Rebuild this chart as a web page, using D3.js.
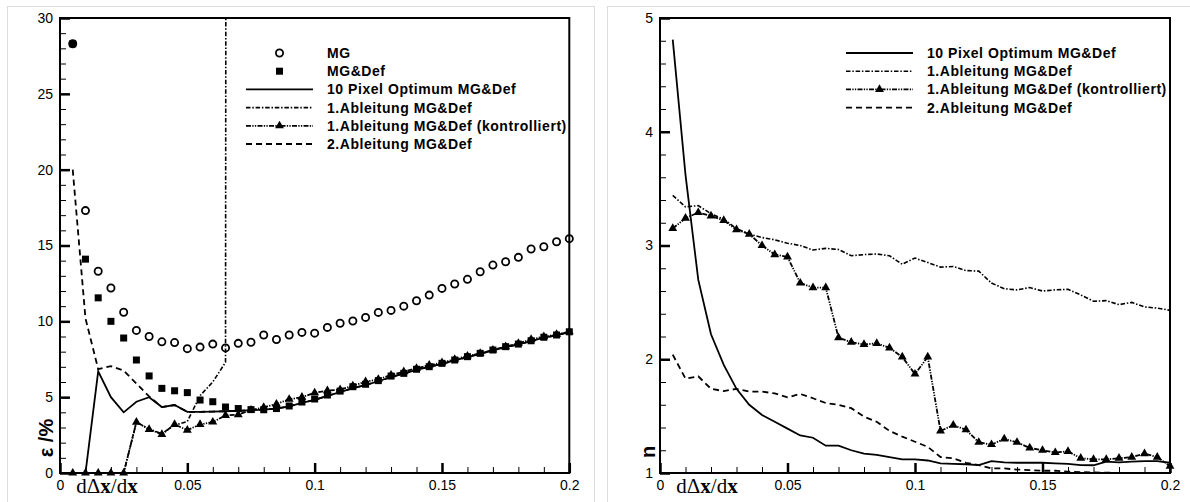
<!DOCTYPE html>
<html>
  <head>
    <meta charset="utf-8">
    <style>
body {
  margin: 0;
  background: #fff;
}
text {
  font-family: 'Liberation Sans', Arial, sans-serif;
  fill: #000;
}
.axis .domain {
  display: none;
}
.axis text {
  font-size: 14px;
}
.legend text {
  font-size: 14px;
  font-weight: bold;
  letter-spacing: 0.55px;
}
</style>
    <title></title>
  </head>
  <body>
    <svg width="1190" height="502"></svg>
    <script src="https://d3js.org/d3.v7.min.js"></script>
    <script>
// x positions of the samples (d delta x / dx)
var xGrid = [0.005, 0.01, 0.015, 0.02, 0.025, 0.03, 0.035, 0.04, 0.045, 0.05,
             0.055, 0.06, 0.065, 0.07, 0.075, 0.08, 0.085, 0.09, 0.095, 0.1,
             0.105, 0.11, 0.115, 0.12, 0.125, 0.13, 0.135, 0.14, 0.145, 0.15,
             0.155, 0.16, 0.165, 0.17, 0.175, 0.18, 0.185, 0.19, 0.195, 0.2];

var xMajor = [0, 0.05, 0.1, 0.15, 0.2];
var xMinor = [0.01, 0.02, 0.03, 0.04, 0.06, 0.07, 0.08, 0.09, 0.11, 0.12, 0.13, 0.14, 0.16, 0.17, 0.18, 0.19];
var xLabels = ["0", "0.05", "0.1", "0.15", "0.2"];

// left panel: epsilon in %
var epsMajor = [0, 5, 10, 15, 20, 25, 30];
var epsMinor = [1, 2, 3, 4, 6, 7, 8, 9, 11, 12, 13, 14, 16, 17, 18, 19, 21, 22, 23, 24, 26, 27, 28, 29];

var epsMG = [28.3, 17.3, 13.3, 12.2, 10.6, 9.4, 9.0, 8.65, 8.6, 8.2,
             8.3, 8.5, 8.25, 8.55, 8.62, 9.1, 8.8, 9.1, 9.27, 9.22,
             9.6, 9.87, 10.02, 10.26, 10.59, 10.72, 11.0, 11.36, 11.73, 12.17,
             12.46, 12.77, 13.27, 13.71, 13.93, 14.22, 14.77, 14.92, 15.25, 15.45];
var epsMGDef = [28.3, 14.1, 11.55, 10.0, 8.9, 7.45, 6.4, 5.58, 5.42, 5.3,
                4.81, 4.7, 4.35, 4.25, 4.18, 4.17, 4.25, 4.42, 4.68, 4.88,
                5.14, 5.4, 5.69, 5.85, 6.09, 6.39, 6.57, 6.84, 7.01, 7.23,
                7.45, 7.67, 7.89, 8.11, 8.33, 8.5, 8.72, 8.95, 9.1, 9.31];
var epsPixel = [0, 0, 6.7, 5.0, 4.0, 4.7, 5.0, 4.35, 4.48, 4.03,
                4.03, 4.05, 4.07, 4.1, 4.14, 4.18, 4.25, 4.4, 4.62, 4.82,
                5.08, 5.33, 5.6, 5.8, 6.05, 6.33, 6.55, 6.8, 7.0, 7.2,
                7.42, 7.64, 7.86, 8.08, 8.3, 8.48, 8.7, 8.92, 9.08, 9.3];
// diverges after 0.065
var epsAbl1 = [0, 0, 0, 0, 0, 3.35, 2.9, 2.6, 3.15, 3.4,
               5.1, 6.0, 7.3, 1000];
var epsAbl1Ctrl = [0, 0, 0, 0, 0, 3.35, 2.88, 2.55, 3.2, 2.83,
                   3.2, 3.36, 3.8, 3.85, 4.15, 4.33, 4.55, 4.86, 5.0, 5.29,
                   5.43, 5.5, 5.75, 6.02, 6.18, 6.46, 6.68, 6.9, 7.12, 7.27,
                   7.5, 7.71, 7.89, 8.11, 8.33, 8.55, 8.81, 8.99, 9.14, 9.31];
var epsAbl2 = [20, 10.2, 6.85, 7.05, 6.75, 5.9, 5.05, 4.35, 4.48, 4.03,
               4.03, 4.05, 4.07, 4.1, 4.14, 4.18, 4.25, 4.4, 4.62, 4.82,
               5.08, 5.33, 5.6, 5.8, 6.05, 6.33, 6.55, 6.8, 7.0, 7.2,
               7.42, 7.64, 7.86, 8.08, 8.3, 8.48, 8.7, 8.92, 9.08, 9.3];

// right panel: n
var nMajor = [1, 2, 3, 4, 5];
var nMinor = [1.2, 1.4, 1.6, 1.8, 2.2, 2.4, 2.6, 2.8, 3.2, 3.4, 3.6, 3.8, 4.2, 4.4, 4.6, 4.8];

var nPixel = [4.81, 3.62, 2.7, 2.22, 1.95, 1.74, 1.6, 1.51, 1.45, 1.39,
              1.33, 1.31, 1.24, 1.24, 1.2, 1.17, 1.16, 1.14, 1.12, 1.12,
              1.11, 1.085, 1.08, 1.077, 1.07, 1.105, 1.094, 1.09, 1.09, 1.09,
              1.085, 1.08, 1.07, 1.068, 1.1, 1.094, 1.1, 1.105, 1.105, 1.09];
var nAbl1 = [3.44, 3.34, 3.35, 3.28, 3.23, 3.15, 3.1, 3.07, 3.05, 3.02,
             3.0, 2.96, 2.975, 2.965, 2.91, 2.92, 2.925, 2.91, 2.835, 2.89,
             2.85, 2.81, 2.815, 2.78, 2.775, 2.67, 2.62, 2.61, 2.63, 2.6,
             2.61, 2.615, 2.565, 2.51, 2.515, 2.48, 2.5, 2.46, 2.45, 2.43];
var nAbl1Ctrl = [3.15, 3.24, 3.29, 3.26, 3.22, 3.14, 3.1, 3.0, 2.92, 2.9,
                 2.67, 2.63, 2.63, 2.19, 2.15, 2.13, 2.14, 2.1, 2.02, 1.87,
                 2.02, 1.37, 1.42, 1.38, 1.27, 1.25, 1.3, 1.27, 1.22, 1.2,
                 1.18, 1.19, 1.13, 1.12, 1.12, 1.13, 1.14, 1.17, 1.14, 1.06];
var nAbl2 = [2.04, 1.83, 1.85, 1.74, 1.72, 1.74, 1.715, 1.715, 1.7, 1.665,
             1.695, 1.657, 1.615, 1.6, 1.57, 1.495, 1.45, 1.37, 1.32, 1.275,
             1.23, 1.14, 1.13, 1.09, 1.07, 1.04, 1.04, 1.03, 1.026, 1.02,
             1.02, 1.012, 1.008, 1.005, 1.003, 1.0, 1.0, 1.0, 1.0, 1.0];

// line styles
var styles = {
  pixel: {dash: null, width: 1.8},
  abl1:  {dash: "4.5,1.8,1.5,1.8", width: 1.6},
  ctrl:  {dash: "5,1.3,1.3,1.3,1.3,1.3", width: 1.8},
  abl2:  {dash: "6,4", width: 1.8}
};

var svg = d3.select("svg");

function pts(vals) {
  return vals.map(function(v, i) { return [xGrid[i], v]; });
}

function drawPanel(p) {
  // light frame round the panel
  svg.append("rect")
      .attr("x", p.boxX + 0.5).attr("y", 6.5)
      .attr("width", p.boxW).attr("height", 500)
      .attr("fill", "none").attr("stroke", "#dcdcdc");

  var x = d3.scaleLinear().domain([0, 0.2]).range([p.left, p.right]);
  var y = d3.scaleLinear().domain(p.yDomain).range([p.bottom, p.top]);

  var clipId = "clip" + p.id;
  svg.append("clipPath").attr("id", clipId)
    .append("rect")
      .attr("x", p.left).attr("y", p.top)
      .attr("width", p.right - p.left).attr("height", p.bottom - p.top);

  // minor ticks
  svg.append("g").attr("class", "axis")
      .attr("transform", "translate(0," + p.bottom + ")")
      .call(d3.axisBottom(x).tickValues(xMinor).tickSize(-6).tickSizeOuter(0).tickFormat(""))
      .selectAll("line").attr("stroke-width", 1);
  svg.append("g").attr("class", "axis")
      .attr("transform", "translate(" + p.left + ",0)")
      .call(d3.axisLeft(y).tickValues(p.yMinor).tickSize(-6).tickSizeOuter(0).tickFormat(""))
      .selectAll("line").attr("stroke-width", 1);

  // major ticks with labels
  var xa = svg.append("g").attr("class", "axis")
      .attr("transform", "translate(0," + p.bottom + ")")
      .call(d3.axisBottom(x).tickValues(xMajor).tickSize(-10).tickSizeOuter(0).tickPadding(7)
        .tickFormat(function(d, i) { return xLabels[i]; }));
  xa.selectAll("line").attr("stroke-width", 2.5);

  var ya = svg.append("g").attr("class", "axis")
      .attr("transform", "translate(" + p.left + ",0)")
      .call(d3.axisLeft(y).tickValues(p.yMajor).tickSize(-10).tickSizeOuter(0).tickPadding(7)
        .tickFormat(d3.format("d")));
  ya.selectAll("line").attr("stroke-width", 2.5);

  // plot frame
  svg.append("rect")
      .attr("x", p.left).attr("y", p.top)
      .attr("width", p.right - p.left).attr("height", p.bottom - p.top)
      .attr("fill", "none").attr("stroke", "#000").attr("stroke-width", 2);

  var line = d3.line()
      .x(function(d) { return x(d[0]); })
      .y(function(d) { return y(d[1]); });

  var lines = svg.append("g").attr("clip-path", "url(#" + clipId + ")");
  p.lines.forEach(function(s) {
    lines.append("path")
        .attr("d", line(pts(s.values)))
        .attr("fill", "none")
        .attr("stroke", "#000")
        .attr("stroke-width", s.style.width)
        .attr("stroke-dasharray", s.style.dash);
  });

  // markers
  var marks = svg.append("g");
  if (p.squares) {
    marks.selectAll(".sq").data(pts(p.squares)).enter().append("rect")
        .attr("x", function(d) { return x(d[0]) - 3.5; })
        .attr("y", function(d) { return y(d[1]) - 3.5; })
        .attr("width", 7).attr("height", 7)
        .attr("fill", "#000");
  }
  if (p.circles) {
    marks.selectAll(".ci").data(pts(p.circles)).enter().append("circle")
        .attr("cx", function(d) { return x(d[0]); })
        .attr("cy", function(d) { return y(d[1]); })
        .attr("r", 3.6)
        .attr("fill", "none").attr("stroke", "#000").attr("stroke-width", 1.8);
  }
  var tri = d3.symbol().type(d3.symbolTriangle).size(34);
  marks.selectAll(".tr").data(pts(p.triangles)).enter().append("path")
      .attr("d", tri)
      .attr("transform", function(d) { return "translate(" + x(d[0]) + "," + y(d[1]) + ")"; })
      .attr("fill", "#000");

  // axis titles
  var xt = svg.append("text")
      .attr("x", p.left + 47).attr("y", 493)
      .attr("text-anchor", "middle")
      .style("font-family", "'Liberation Serif', 'Times New Roman', serif")
      .style("font-size", "21px");
  xt.append("tspan").text("d\u0394");
  xt.append("tspan").attr("font-weight", "bold").text("x");
  xt.append("tspan").text("/d");
  xt.append("tspan").attr("font-weight", "bold").text("x");

  svg.append("text")
      .attr("transform", "translate(" + p.yTitleX + "," + p.yTitleY + ") rotate(-90)")
      .attr("text-anchor", "middle")
      .style("font-size", "20px")
      .style("font-weight", "bold")
      .text(p.yTitle);

  // legend
  var legend = svg.append("g").attr("class", "legend")
    .selectAll("g")
    .data(p.legend)
    .enter().append("g")
      .attr("transform", function(d, i) { return "translate(0," + (53 + i * 18.2) + ")"; });

  legend.each(function(d) {
    var lg = d3.select(this);
    var x0 = p.legX, x1 = p.legX + 67, xm = (x0 + x1) / 2;
    if (d.style) {
      lg.append("line")
          .attr("x1", x0).attr("x2", x1)
          .attr("stroke", "#000")
          .attr("stroke-width", d.style.width)
          .attr("stroke-dasharray", d.style.dash);
    }
    if (d.marker == "circle") {
      lg.append("circle").attr("cx", xm).attr("r", 3.6)
          .attr("fill", "none").attr("stroke", "#000").attr("stroke-width", 1.8);
    } else if (d.marker == "square") {
      lg.append("rect").attr("x", xm - 3.5).attr("y", -3.5).attr("width", 7).attr("height", 7);
    } else if (d.marker == "triangle") {
      lg.append("path").attr("d", tri).attr("transform", "translate(" + xm + ",0)");
    }
    lg.append("text")
        .attr("x", x1 + 14)
        .attr("dy", "0.36em")
        .text(d.label);
  });
}

drawPanel({
  id: "L", boxX: 7, boxW: 587,
  left: 60, right: 569.3, top: 18, bottom: 473,
  yDomain: [0, 30], yMajor: epsMajor, yMinor: epsMinor,
  yTitle: "\u03b5 /%", yTitleX: 53, yTitleY: 438,
  lines: [
    {values: epsAbl2, style: styles.abl2},
    {values: epsAbl1, style: styles.abl1},
    {values: epsAbl1Ctrl, style: styles.ctrl},
    {values: epsPixel, style: styles.pixel}
  ],
  circles: epsMG, squares: epsMGDef, triangles: epsAbl1Ctrl,
  legX: 246,
  legend: [
    {label: "MG", marker: "circle"},
    {label: "MG&Def", marker: "square"},
    {label: "10 Pixel Optimum MG&Def", style: styles.pixel},
    {label: "1.Ableitung MG&Def", style: styles.abl1},
    {label: "1.Ableitung MG&Def (kontrolliert)", style: styles.ctrl, marker: "triangle"},
    {label: "2.Ableitung MG&Def", style: styles.abl2}
  ]
});

drawPanel({
  id: "R", boxX: 607, boxW: 600,
  left: 660, right: 1170, top: 18, bottom: 473,
  yDomain: [1, 5], yMajor: nMajor, yMinor: nMinor,
  yTitle: "n", yTitleX: 655, yTitleY: 452,
  lines: [
    {values: nAbl2, style: styles.abl2},
    {values: nAbl1, style: styles.abl1},
    {values: nAbl1Ctrl, style: styles.ctrl},
    {values: nPixel, style: styles.pixel}
  ],
  triangles: nAbl1Ctrl,
  legX: 846,
  legend: [
    {label: "10 Pixel Optimum MG&Def", style: styles.pixel},
    {label: "1.Ableitung MG&Def", style: styles.abl1},
    {label: "1.Ableitung MG&Def (kontrolliert)", style: styles.ctrl, marker: "triangle"},
    {label: "2.Ableitung MG&Def", style: styles.abl2}
  ]
});
</script>
  </body>
</html>
